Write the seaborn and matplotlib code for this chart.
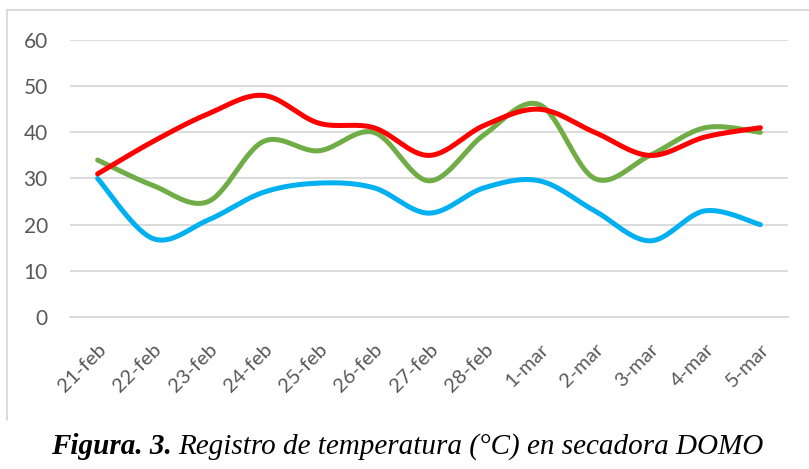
import numpy as np
import pandas as pd
import matplotlib
matplotlib.use('Agg')
import matplotlib.pyplot as plt
import seaborn as sns
from matplotlib.lines import Line2D

days = ['21-feb', '22-feb', '23-feb', '24-feb', '25-feb', '26-feb', '27-feb',
        '28-feb', '1-mar', '2-mar', '3-mar', '4-mar', '5-mar']
red_temp = [31, 38, 44, 48, 42, 41, 35, 41.5, 45, 40, 35, 39, 41]
green_temp = [34, 28.5, 25, 38, 36, 40, 29.5, 39.5, 46, 30, 35, 41, 40]
blue_temp = [30, 17, 21, 27, 29, 28, 22.5, 28, 29.5, 23, 16.5, 23, 20]
yticks = [0, 10, 20, 30, 40, 50, 60]

colors = {'rojo': '#FF0000', 'verde': '#70AD47', 'azul': '#00B0F0'}


def smooth(y, n=30):
    # Excel style smoothed line: Catmull-Rom through the points
    y = np.asarray(y, dtype=float)
    x = np.arange(len(y), dtype=float)
    px = np.concatenate([[x[0]], x, [x[-1]]])
    py = np.concatenate([[y[0]], y, [y[-1]]])
    xs, ys = [], []
    for i in range(1, len(px) - 2):
        p0, p1, p2, p3 = (np.array([px[j], py[j]]) for j in (i - 1, i, i + 1, i + 2))
        c1 = p1 + (p2 - p0) / 6
        c2 = p2 - (p3 - p1) / 6
        t = np.linspace(0, 1, n, endpoint=False)[:, None]
        pts = ((1 - t) ** 3) * p1 + 3 * ((1 - t) ** 2) * t * c1 + 3 * (1 - t) * t ** 2 * c2 + t ** 3 * p2
        xs.extend(pts[:, 0])
        ys.extend(pts[:, 1])
    xs.append(x[-1])
    ys.append(y[-1])
    return np.array(xs), np.array(ys)


frames = []
for name, vals in [('rojo', red_temp), ('verde', green_temp), ('azul', blue_temp)]:
    sx, sy = smooth(vals)
    frames.append(pd.DataFrame({'x': sx, 'temp': sy, 'serie': name}))
df = pd.concat(frames, ignore_index=True)

sns.set_style('white')
plt.rcParams['font.family'] = ['Lato', 'DejaVu Sans']

fig = plt.figure(figsize=(8.09, 4.69), dpi=100)
ax = fig.add_axes([70 / 809, 152 / 469, 718 / 809, 277 / 469])

for name in ['azul', 'verde', 'rojo']:
    sub = df[df['serie'] == name]
    sns.lineplot(data=sub, x='x', y='temp', sort=False, color=colors[name],
                 linewidth=3.6, solid_capstyle='round', ax=ax, legend=False)

ax.set_xlim(-0.5, len(days) - 0.5)
ax.set_ylim(0, 60)
ax.set_yticks(yticks)
ax.set_yticklabels([str(v) for v in yticks], fontsize=15, color='#595959')
ax.yaxis.grid(True, color='#d9d9d9', linewidth=1.3)
ax.set_axisbelow(True)
ax.set_xticks(range(len(days)))
ax.set_xticklabels(days, rotation=45, ha='right', rotation_mode='anchor',
                   fontsize=14.5, color='#595959')
ax.set_xticks(np.arange(-0.5, len(days)), minor=True)
ax.tick_params(axis='x', which='major', length=0, pad=17)
ax.tick_params(axis='x', which='minor', length=5, width=1.3, color='#d9d9d9')
ax.tick_params(axis='y', length=0, pad=16)
ax.set_xlabel('')
ax.set_ylabel('')
for s in ['top', 'right', 'left']:
    ax.spines[s].set_visible(False)
ax.spines['bottom'].set_color('#d9d9d9')
ax.spines['bottom'].set_linewidth(1.3)

# chart frame (left and top edges)
fig.add_artist(Line2D([7 / 809, 7 / 809], [1 - 420 / 469, 1 - 10 / 469],
                      transform=fig.transFigure, color='#d9d9d9', linewidth=1.3))
fig.add_artist(Line2D([7 / 809, 1], [1 - 10 / 469, 1 - 10 / 469],
                      transform=fig.transFigure, color='#d9d9d9', linewidth=1.3))

# caption, bold part then italic part, centred as a whole
fig.canvas.draw()
renderer = fig.canvas.get_renderer()
cap_y = 1 - 454 / 469
cap_size = 21
t1 = fig.text(0, cap_y, 'Figura. 3.', family='Liberation Serif', style='italic',
              weight='bold', fontsize=cap_size, color='black', va='baseline')
t2 = fig.text(0, cap_y, 'Registro de temperatura (°C) en secadora DOMO',
              family='Liberation Serif', style='italic', fontsize=cap_size,
              color='black', va='baseline')
w1 = t1.get_window_extent(renderer).width
w2 = t2.get_window_extent(renderer).width
gap = 6
start = 407 - (w1 + gap + w2) / 2
t1.set_x(start / fig.bbox.width)
t2.set_x((start + w1 + gap) / fig.bbox.width)

fig.savefig('out.png', dpi=100)
